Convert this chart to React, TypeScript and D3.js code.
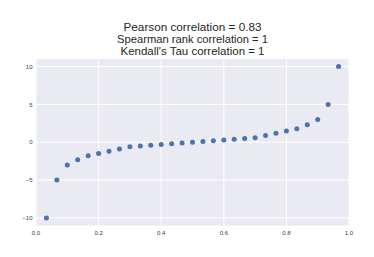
import React from "react";
import * as d3 from "d3";

// x positions are i/30
const xs: number[] = [
  1, 2, 3, 4, 5, 6, 7, 8, 9, 10, 11, 12, 13, 14, 15, 16, 17, 18, 19, 20, 21, 22, 23, 24, 25, 26, 27, 28, 29,
].map((i) => i / 30);
const ys: number[] = [
  -10, -5, -3, -2.3, -1.8, -1.5, -1.2, -0.9, -0.6, -0.5, -0.4, -0.3, -0.2, -0.1, 0,
  0.1, 0.2, 0.3, 0.4, 0.5, 0.6, 0.9, 1.2, 1.5, 1.8, 2.3, 3, 5, 10,
];
const xTicks: number[] = [0, 0.2, 0.4, 0.6, 0.8, 1.0];
const yTicks: number[] = [-10, -5, 0, 5, 10];
const titleLines: string[] = [
  "Pearson correlation = 0.83",
  "Spearman rank correlation = 1",
  "Kendall's Tau correlation = 1",
];
const titleWidths: number[] = [138, 151, 144];

const W = 374;
const H = 257;
const margin = { top: 59, right: 25, bottom: 31.5, left: 36 };

export default function App() {
  const x = d3.scaleLinear().domain([0, 1]).range([margin.left, W - margin.right]);
  const y = d3.scaleLinear().domain([-11, 11]).range([H - margin.bottom, margin.top]);
  const font = "Arial, 'Liberation Sans', Helvetica, sans-serif";
  const minus = (v: number) => String(v).replace("-", "\u2212");
  const cx = (margin.left + W - margin.right) / 2;

  return (
    <svg
      width={W}
      height={H}
      style={{ position: "absolute", left: 0, top: 0, background: "#fff" }}
      fontFamily={font}
    >
      <rect
        x={margin.left}
        y={margin.top}
        width={W - margin.left - margin.right}
        height={H - margin.top - margin.bottom}
        fill="#EAEAF2"
      />
      {xTicks.map((t) => (
        <line key={"gx" + t} x1={x(t)} x2={x(t)} y1={margin.top} y2={H - margin.bottom} stroke="#fff" strokeWidth={1} />
      ))}
      {yTicks.map((t) => (
        <line key={"gy" + t} x1={margin.left} x2={W - margin.right} y1={y(t)} y2={y(t)} stroke="#fff" strokeWidth={1} />
      ))}
      {xs.map((v, i) => (
        <circle key={i} cx={x(v)} cy={y(ys[i])} r={2.5} fill="#4C72B0" />
      ))}
      {xTicks.map((t) => (
        <text key={"tx" + t} x={x(t)} y={234.5} textAnchor="middle" fontSize={6} fill="#3a3a3a">
          {t.toFixed(1)}
        </text>
      ))}
      {yTicks.map((t) => (
        <text key={"ty" + t} x={margin.left - 3.5} y={y(t)} dy="0.35em" textAnchor="end" fontSize={6} fill="#3a3a3a">
          {minus(t)}
        </text>
      ))}
      {titleLines.map((s, i) => (
        <text
          key={s}
          x={cx - titleWidths[i] / 2}
          y={30.5 + i * 12}
          fontSize={10.8}
          fill="#262626"
          textLength={titleWidths[i]}
          lengthAdjust="spacingAndGlyphs"
        >
          {s}
        </text>
      ))}
    </svg>
  );
}
